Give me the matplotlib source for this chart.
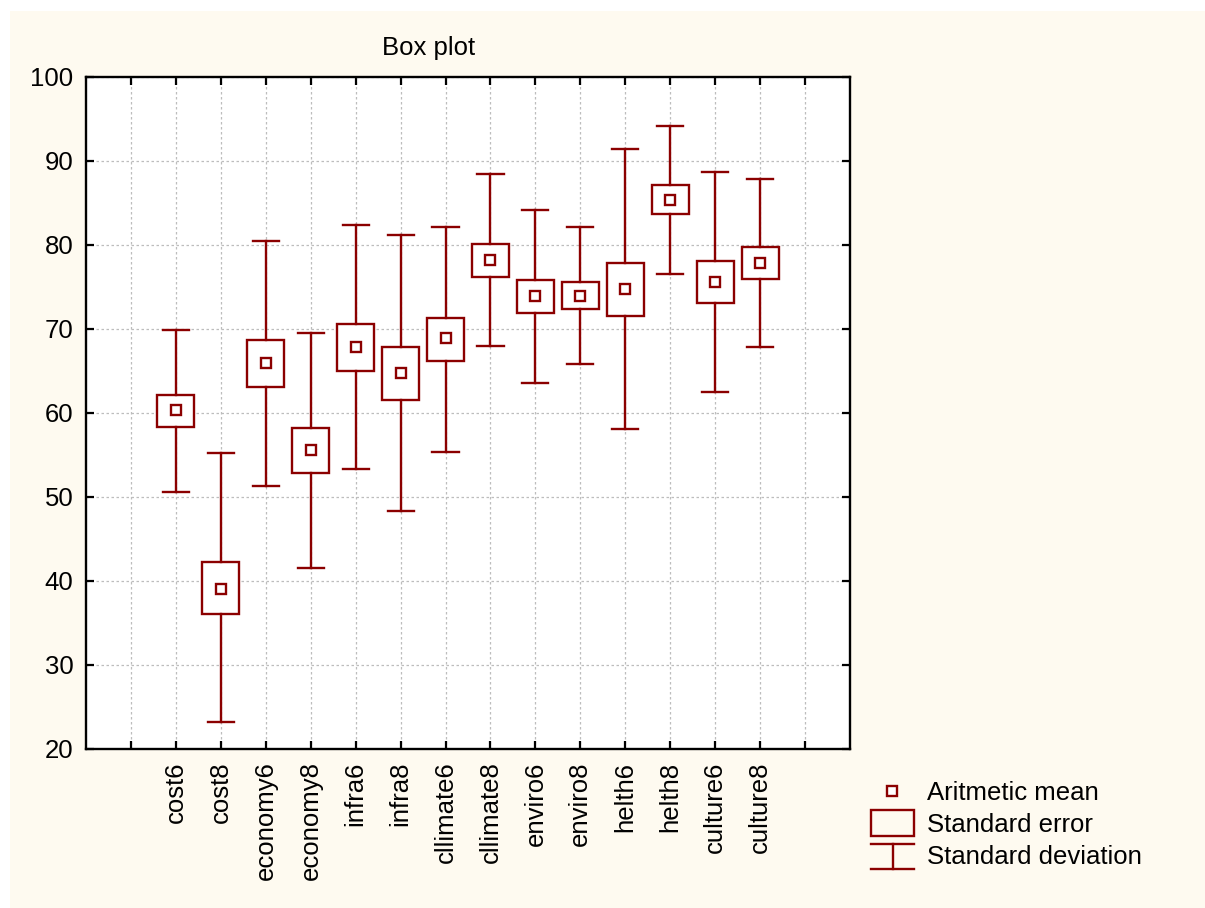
import numpy as np
import matplotlib
matplotlib.use('Agg')
import matplotlib.pyplot as plt
from matplotlib.patches import Rectangle

plt.rcParams['font.family'] = ['Liberation Sans', 'DejaVu Sans']

labels = ['cost6', 'cost8', 'economy6', 'economy8', 'infra6', 'infra8',
          'cllimate6', 'cllimate8', 'enviro6', 'enviro8', 'helth6', 'helth8',
          'culture6', 'culture8']
means = [60.3, 39.1, 66.0, 55.6, 67.9, 64.8, 68.9, 78.2, 73.9, 73.9, 74.8, 85.3, 75.6, 77.9]
se_hi = [62.1, 42.3, 68.7, 58.2, 70.6, 67.9, 71.3, 80.1, 75.8, 75.6, 77.9, 87.1, 78.1, 79.8]
se_lo = [58.3, 36.1, 63.1, 52.8, 65.0, 61.6, 66.2, 76.2, 71.9, 72.4, 71.6, 83.7, 73.1, 76.0]
sd_hi = [69.9, 55.2, 80.5, 69.5, 82.4, 81.2, 82.2, 88.4, 84.2, 82.1, 91.4, 94.2, 88.7, 87.8]
sd_lo = [50.6, 23.2, 51.3, 41.6, 53.3, 48.3, 55.4, 68.0, 63.6, 65.8, 58.1, 76.6, 62.5, 67.9]

col = '#8B0000'
lw = 1.7
fs = 18.5

fig = plt.figure(figsize=(12.05, 9.08), dpi=100, facecolor='white')

# background panel + legend drawn in pixel coords
bg = fig.add_axes([0, 0, 1, 1], zorder=0)
bg.set_xlim(0, 1205)
bg.set_ylim(908, 0)
bg.axis('off')
bg.add_patch(Rectangle((10, 11), 1195, 897, facecolor='#FEFAF0', edgecolor='none'))

ax = fig.add_axes([86 / 1205, 1 - 749 / 908, 764 / 1205, 672 / 908], zorder=1)
ax.set_facecolor('white')

for i, lab in enumerate(labels):
    x = i + 2
    ax.add_patch(Rectangle((x - 0.41, se_lo[i]), 0.82, se_hi[i] - se_lo[i],
                           facecolor='white', edgecolor=col, lw=lw, zorder=3))
    ax.plot([x, x], [sd_lo[i], se_lo[i]], color=col, lw=lw, zorder=3)
    ax.plot([x, x], [se_hi[i], sd_hi[i]], color=col, lw=lw, zorder=3)
    ax.plot([x - 0.29, x + 0.29], [sd_lo[i], sd_lo[i]], color=col, lw=lw, zorder=3)
    ax.plot([x - 0.29, x + 0.29], [sd_hi[i], sd_hi[i]], color=col, lw=lw, zorder=3)
    ax.plot(x, means[i], marker='s', ms=7, mfc='white', mec=col, mew=lw, zorder=4)

ax.set_xlim(0, 17)
ax.set_ylim(20, 100)
ax.set_xticks(range(1, 17))
ax.set_xticklabels([''] + labels + [''], rotation=90, fontsize=fs)
ax.set_yticks(range(20, 101, 10))
ax.set_yticklabels([str(v) for v in range(20, 101, 10)], fontsize=fs)
ax.tick_params(direction='in', top=True, right=True, length=6, width=1.6, pad=9)
for s in ax.spines.values():
    s.set_linewidth(1.7)
ax.grid(True, color='#bdbdbd', linestyle=(0, (2, 2)), lw=0.9)
ax.set_axisbelow(True)

fig.text(429 / 1205, 1 - 55 / 908, 'Box plot', ha='center', va='baseline', fontsize=fs)

# legend
bg.plot(891.5, 791, marker='s', ms=7, mfc='white', mec=col, mew=lw)
bg.add_patch(Rectangle((871, 810), 43, 26, facecolor='none', edgecolor=col, lw=lw))
bg.plot([871, 914], [843.5, 843.5], color=col, lw=lw)
bg.plot([871, 914], [868.5, 868.5], color=col, lw=lw)
bg.plot([892.5, 892.5], [843.5, 868.5], color=col, lw=lw)
for yb, txt in zip([800.5, 832.5, 864.5], ['Aritmetic mean', 'Standard error', 'Standard deviation']):
    bg.text(927, yb, txt, fontsize=fs, ha='left', va='baseline')

fig.savefig('out.png', dpi=100)
